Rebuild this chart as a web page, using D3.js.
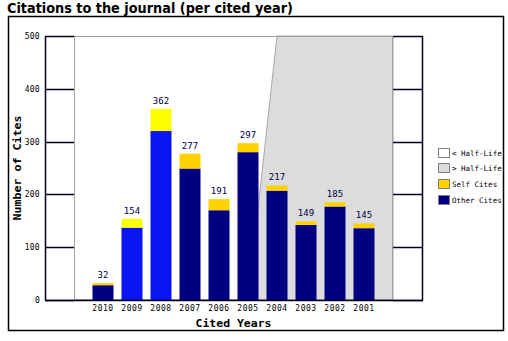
<!DOCTYPE html>
<html><head><meta charset="utf-8">
<script src="https://cdn.jsdelivr.net/npm/d3@7"></script>
<style>body{margin:0;background:#fff}svg{display:block}</style>
</head><body>
<script>
const years = ["2010","2009","2008","2007","2006","2005","2004","2003","2002","2001"];
const otherCites = [28,137,320,249,170,280,207,142,177,136];
const selfCites = [4,17,42,28,21,17,10,7,8,9];
const highlighted = ["2009","2008"];
const yTicks = [0,100,200,300,400,500];
const halfLifeBottomYear = "2005";
const halfLifeTopYear = "2004";
const legendLabels = ["< Half-Life","> Half-Life","Self Cites","Other Cites"];

const W=508,H=341;
const svg=d3.select("body").append("svg").attr("width",W).attr("height",H);
const L=74,R=393,T=36,B=300;
const x=d3.scaleBand().domain(years).range([L,R]).paddingInner(8/29).paddingOuter(0.638);
const y=d3.scaleLinear().domain([0,500]).range([B,T]);
const mono="'DejaVu Sans Mono', monospace";

// title
svg.append("text").attr("x",7).attr("y",13).attr("font-family","'DejaVu Sans', Verdana, sans-serif")
 .attr("font-weight","bold").attr("font-size",14).attr("fill","#000").text("Citations to the journal (per cited year)")
 .attr("textLength",286).attr("lengthAdjust","spacingAndGlyphs");

// outer frame
svg.append("rect").attr("x",8.5).attr("y",16.5).attr("width",495).attr("height",314).attr("fill","none").attr("stroke","#000").attr("stroke-width",1.5);

// plot background
svg.append("rect").attr("x",L).attr("y",T).attr("width",R-L).attr("height",B-T).attr("fill","#fff");
// half-life region
const xc=d=>x(d)+x.bandwidth()/2;
svg.append("path").attr("d",d3.line()([[xc(halfLifeBottomYear),y(0)],[xc(halfLifeTopYear),y(500)],[R,y(500)],[R,y(0)]])+"Z")
 .attr("fill","#dcdcdc").attr("stroke","#a8a8a8").attr("stroke-width",1);
// plot border
svg.append("rect").attr("x",L+0.5).attr("y",T+0.5).attr("width",R-L-1).attr("height",B-T-1).attr("fill","none").attr("stroke","#a0a0a0");

// side boxes
svg.append("line").attr("x1",45.5).attr("x2",45.5).attr("y1",y(0)).attr("y2",y(500)).attr("stroke","#000020").attr("stroke-width",1.5);
svg.append("line").attr("x1",422.5).attr("x2",422.5).attr("y1",y(0)).attr("y2",y(500)).attr("stroke","#000020").attr("stroke-width",1.5);
yTicks.forEach(t=>{
  const yy=Math.round(y(t))+0.5;
  svg.append("line").attr("x1",45).attr("x2",L).attr("y1",yy).attr("y2",yy).attr("stroke","#000020").attr("stroke-width",1.5);
  svg.append("line").attr("x1",R).attr("x2",423).attr("y1",yy).attr("y2",yy).attr("stroke","#000020").attr("stroke-width",1.5);
});

// y tick labels
svg.append("g").selectAll("text").data(yTicks).join("text")
 .attr("x",40).attr("y",d=>y(d)+3).attr("text-anchor","end").attr("font-family",mono).attr("font-size",8)
 .attr("letter-spacing",0.3).attr("fill","#000").text(d=>d);

// bars
const g=svg.append("g");
years.forEach((yr,i)=>{
  const hi=highlighted.includes(yr);
  g.append("rect").attr("x",x(yr)).attr("width",x.bandwidth()).attr("y",y(otherCites[i])).attr("height",y(0)-y(otherCites[i]))
   .attr("fill",hi?"#0a14f0":"#000080");
  g.append("rect").attr("x",x(yr)).attr("width",x.bandwidth()).attr("y",y(otherCites[i]+selfCites[i])).attr("height",y(otherCites[i])-y(otherCites[i]+selfCites[i]))
   .attr("fill",hi?"#ffff00":"#ffd200");
  g.append("text").attr("x",xc(yr)).attr("y",y(otherCites[i]+selfCites[i])-5).attr("text-anchor","middle")
   .attr("font-family",mono).attr("font-size",9).attr("fill","#000040").text(otherCites[i]+selfCites[i]);
});
// bottom axis line
svg.append("line").attr("x1",45).attr("x2",423).attr("y1",B+0.5).attr("y2",B+0.5).attr("stroke","#000020").attr("stroke-width",1.5);

// x tick labels
svg.append("g").selectAll("text").data(years).join("text")
 .attr("x",d=>xc(d)).attr("y",311).attr("text-anchor","middle").attr("font-family",mono).attr("font-size",8)
 .attr("letter-spacing",0.5).attr("fill","#000").text(d=>d);

// axis titles
svg.append("text").attr("x",(L+R)/2).attr("y",327).attr("text-anchor","middle").attr("font-family",mono)
 .attr("font-weight","bold").attr("font-size",11).attr("fill","#000").text("Cited Years").attr("textLength",76).attr("lengthAdjust","spacingAndGlyphs");
svg.append("text").attr("transform",`translate(21,${(T+B)/2}) rotate(-90)`).attr("text-anchor","middle").attr("font-family",mono)
 .attr("font-weight","bold").attr("font-size",11).attr("fill","#000").text("Number of Cites").attr("textLength",105).attr("lengthAdjust","spacingAndGlyphs");

// legend
const legFill=["#ffffff","#dcdcdc","#ffd200","#000080"];
const legY=[148,163,179,195];
legendLabels.forEach((lab,i)=>{
  svg.append("rect").attr("x",438.5).attr("y",legY[i]+0.5).attr("width",11).attr("height",9).attr("fill",legFill[i]).attr("stroke","#808080");
  svg.append("text").attr("x",452).attr("y",legY[i]+8).attr("font-family",mono).attr("font-size",7.5).attr("fill","#000").text(lab);
});
</script>
</body></html>
